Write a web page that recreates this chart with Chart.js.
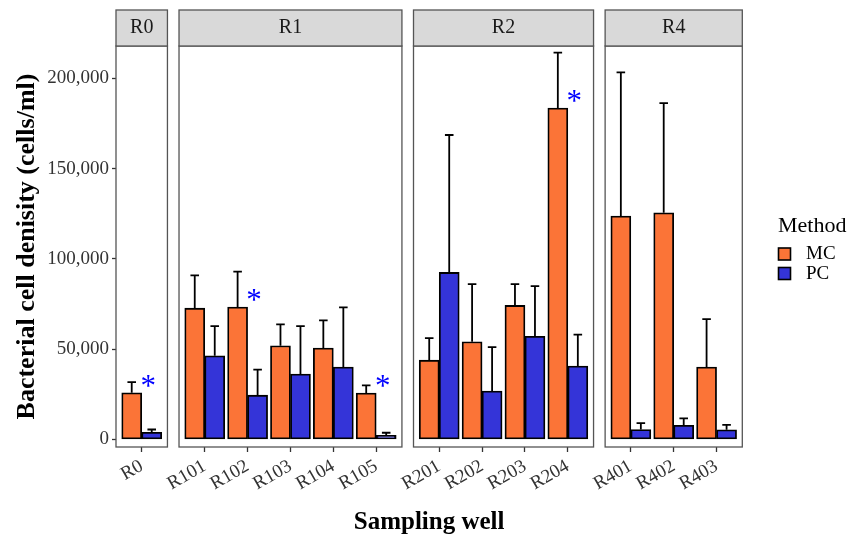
<!DOCTYPE html>
<html><head><meta charset="utf-8">
<script src="https://cdn.jsdelivr.net/npm/chart.js@4.4.1/dist/chart.umd.min.js"></script>
<style>html,body{margin:0;padding:0;background:#fff}canvas{display:block}</style>
</head><body>
<canvas id="c" width="848" height="540"></canvas>
<script>
// ---------- data ----------
const wells   = ['R0','R101','R102','R103','R104','R105','R201','R202','R203','R204','R401','R402','R403'];
const regions = ['R0','R1','R1','R1','R1','R1','R2','R2','R2','R2','R4','R4','R4'];
const methods = ['MC','PC'];
const mcMean  = [25800, 72700, 73300, 51900, 50600, 25700, 43900, 54100, 74200, 183500, 123700, 125500, 40100];
const mcSd    = [5900, 18200, 19600, 11800, 15300, 4200, 12200, 31900, 11800, 30700, 79600, 60800, 26500];
const pcMean  = [3900, 46300, 24500, 36200, 40100, 2200, 92500, 26800, 57100, 40600, 5500, 7800, 5300];
const pcSd    = [1600, 16500, 14100, 26600, 33000, 1500, 76100, 24300, 27800, 17400, 3500, 3800, 2800];
const significant = ['R0','R102','R105','R204'];
const yTicks  = [0, 50000, 100000, 150000, 200000];

// ---------- style / layout ----------
const SERIF = "'Liberation Serif', 'Times New Roman', serif";
const MC_COLOR = '#FB7437', PC_COLOR = '#3434D8';
const EXPAND = 0.6, GAP = 0.27;

const panelNames = [...new Set(regions)];
const xPos = [];
const panels = [];
let cursor = 0;
panelNames.forEach(name => {
  const idx = regions.map((r, i) => r === name ? i : -1).filter(i => i >= 0);
  const start = cursor;
  idx.forEach((wi, k) => { xPos[wi] = start + EXPAND + k; });
  const end = start + (idx.length - 1) + 2 * EXPAND;
  panels.push({ name, start, end });
  cursor = end + GAP;
});
const xMax = cursor - GAP;

const facetPlugin = {
  id: 'facets',
  afterDatasetsDraw(chart) {
    const ctx = chart.ctx, ca = chart.chartArea;
    const xs = chart.scales.x, ys = chart.scales.y;
    ctx.save();
    // error bars
    const sds = [mcSd, pcSd];
    const means = [mcMean, pcMean];
    const half = xs.getPixelForValue(0.1) - xs.getPixelForValue(0);
    ctx.strokeStyle = '#000';
    ctx.lineWidth = 1.8;
    chart.data.datasets.forEach((ds, di) => {
      const meta = chart.getDatasetMeta(di);
      meta.data.forEach((bar, i) => {
        const base = ys.getPixelForValue(means[di][i]);
        const top = ys.getPixelForValue(means[di][i] + sds[di][i]);
        ctx.beginPath();
        ctx.moveTo(bar.x, base); ctx.lineTo(bar.x, top);
        ctx.moveTo(bar.x - half, top); ctx.lineTo(bar.x + half, top);
        ctx.stroke();
      });
    });
    // asterisks
    ctx.fillStyle = '#0000FF';
    ctx.font = '31px ' + SERIF;
    ctx.textAlign = 'center';
    ctx.textBaseline = 'alphabetic';
    significant.forEach(w => {
      const i = wells.indexOf(w);
      const cx = xs.getPixelForValue(xPos[i] + 0.15);
      const cy = ys.getPixelForValue(mcMean[i]) - 11.5;
      ctx.fillText('*', cx, cy + 14.5);
    });
    // panels + strips
    ctx.strokeStyle = '#555';
    ctx.lineWidth = 1.3;
    panels.forEach(p => {
      const l = xs.getPixelForValue(p.start), r = xs.getPixelForValue(p.end);
      ctx.strokeRect(l, ca.top, r - l, ca.bottom - ca.top);
      const st = ca.top - 36;
      ctx.fillStyle = '#D9D9D9';
      ctx.fillRect(l, st, r - l, 36);
      ctx.strokeRect(l, st, r - l, 36);
      ctx.fillStyle = '#1a1a1a';
      ctx.font = '20px ' + SERIF;
      ctx.textAlign = 'center';
      ctx.textBaseline = 'middle';
      ctx.fillText(p.name, (l + r) / 2, st + 18);
    });
    // legend
    ctx.fillStyle = '#000';
    ctx.font = '22px ' + SERIF;
    ctx.textAlign = 'left';
    ctx.textBaseline = 'alphabetic';
    ctx.fillText('Method', 778, 232);
    chart.data.datasets.forEach((ds, i) => {
      const yk = 248 + i * 19.5;
      ctx.fillStyle = ds.backgroundColor;
      ctx.fillRect(778.5, yk, 12, 12);
      ctx.strokeStyle = '#000';
      ctx.lineWidth = 1.6;
      ctx.strokeRect(778.5, yk, 12, 12);
      ctx.fillStyle = '#000';
      ctx.font = '19px ' + SERIF;
      ctx.textBaseline = 'middle';
      ctx.fillText(ds.label, 806, yk + 6.5);
    });
    ctx.restore();
  }
};

new Chart(document.getElementById('c'), {
  type: 'bar',
  data: {
    datasets: [
      { label: methods[0], data: wells.map((w, i) => ({ x: xPos[i], y: mcMean[i] })),
        backgroundColor: MC_COLOR, borderColor: '#000', borderWidth: 1.8, borderSkipped: false, barThickness: 20 },
      { label: methods[1], data: wells.map((w, i) => ({ x: xPos[i], y: pcMean[i] })),
        backgroundColor: PC_COLOR, borderColor: '#000', borderWidth: 1.8, borderSkipped: false, barThickness: 20 }
    ]
  },
  options: {
    responsive: false,
    animation: false,
    devicePixelRatio: 1,
    layout: { padding: { left: 0, top: 46, right: 105.7, bottom: 0 } },
    plugins: { legend: { display: false }, tooltip: { enabled: false } },
    scales: {
      x: {
        type: 'linear', min: 0, max: xMax, offset: false,
        afterBuildTicks: s => { s.ticks = xPos.map(v => ({ value: v })); },
        afterFit: s => { s.height = 93; },
        ticks: { autoSkip: false, minRotation: 30, maxRotation: 30, padding: 3, color: '#333',
                 font: { size: 19, family: SERIF }, callback: (v, i) => wells[i] },
        grid: { offset: false, drawOnChartArea: false, drawTicks: true, tickLength: 5, color: '#333', tickWidth: 1.3 },
        border: { display: false },
        title: { display: true, text: 'Sampling well', color: '#000',
                 font: { size: 25, weight: 'bold', family: SERIF, lineHeight: 1 }, padding: { top: 0, bottom: 4.5 } }
      },
      y: {
        type: 'linear', min: -4200, max: 217900,
        afterBuildTicks: s => { s.ticks = yTicks.map(v => ({ value: v })); },
        afterFit: s => { s.width = 116; },
        ticks: { padding: 3, color: '#333', font: { size: 19, family: SERIF },
                 callback: v => v.toLocaleString('en-US') },
        grid: { offset: false, drawOnChartArea: false, tickLength: 4, color: '#333', tickWidth: 1.3 },
        border: { display: false },
        title: { display: true, text: 'Bacterial cell denisity (cells/ml)', color: '#000',
                 font: { size: 26, weight: 'bold', family: SERIF, lineHeight: 1 }, padding: { top: 14.5, bottom: 0 } }
      }
    }
  },
  plugins: [facetPlugin]
});
</script>
</body></html>
